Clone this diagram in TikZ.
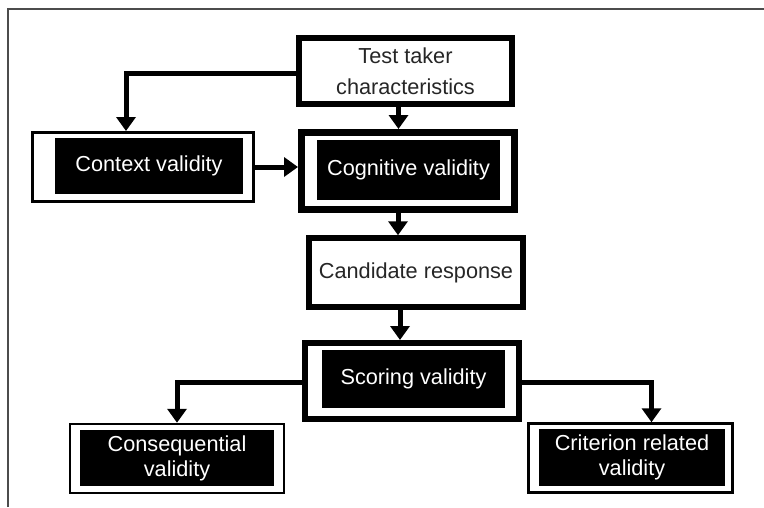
\documentclass[tikz,border=0pt]{standalone}
\usepackage{fontspec}
\setmainfont{Liberation Sans}
\usetikzlibrary{arrows.meta}
\begin{document}
\begin{tikzpicture}[x=1pt,y=-1pt,font=\fontsize{21.7}{25}\selectfont,
	frame/.style={draw,fill=white,inner sep=0pt,align=center},
	blackbox/.style={fill=black,text=white,inner sep=0pt,align=center},
	arr/.style={line width=5pt,-{Triangle[width=19pt,length=14pt]}}]
	\useasboundingbox (0,0) rectangle (764,507);
	% Khung ngoai
	\draw[black!70,line width=1.5pt] (8,507) -- (8,9) -- (764,9);
	% Hop trang
	\node[frame,line width=6pt,minimum width=213pt,minimum height=66pt,text=black!85] (test) at (405.5,71) {Test taker\\[6pt]characteristics};
	\node[frame,line width=5.5pt,minimum width=214pt,minimum height=69pt,text=black!85] (candidate) at (416,272.5) {Candidate response};
	% Hop hai lop (ngoai trang, trong den)
	\node[frame,line width=3pt,minimum width=221pt,minimum height=69pt] (context) at (143,167) {};
	\node[blackbox,minimum width=188pt,minimum height=56pt] (context-in) at (149,166) {Context validity};
	\node[frame,line width=7pt,minimum width=213pt,minimum height=77pt] (cognitive) at (408,171) {};
	\node[blackbox,minimum width=183pt,minimum height=60pt] (cognitive-in) at (408.5,170) {Cognitive validity};
	\node[frame,line width=6pt,minimum width=214pt,minimum height=76pt] (scoring) at (412,381) {};
	\node[blackbox,minimum width=183pt,minimum height=58pt] (scoring-in) at (413.5,379) {Scoring validity};
	\node[frame,line width=2.5pt,minimum width=214pt,minimum height=69pt] (consequential) at (177,458.5) {};
	\node[blackbox,minimum width=194pt,minimum height=56pt] (consequential-in) at (177,458) {Consequential\\validity};
	\node[frame,line width=2.5pt,minimum width=204pt,minimum height=69pt] (criterion) at (630.5,458) {};
	\node[blackbox,minimum width=186pt,minimum height=57pt] (criterion-in) at (632,457.5) {Criterion related\\validity};
	% Mui ten
	\draw[arr] ([yshift=-2pt]test.west) -| ([xshift=-17pt]context.north);
	\draw[arr] ([xshift=-7pt]test.south) -- ([xshift=-7pt]test.south |- cognitive.north);
	\draw[arr] (context.east) -- (context.east -| cognitive.west);
	\draw[arr] ([xshift=-10pt]cognitive.south) -- ([xshift=-10pt]cognitive.south |- candidate.north);
	\draw[arr] ([xshift=-16pt]candidate.south) -- ([xshift=-16pt]candidate.south |- scoring.north);
	\draw[arr] ([yshift=-1pt]scoring.west) -| (consequential.north);
	\draw[arr] ([yshift=-1pt]scoring.east) -| ([xshift=21pt]criterion.north);
\end{tikzpicture}
\end{document}
